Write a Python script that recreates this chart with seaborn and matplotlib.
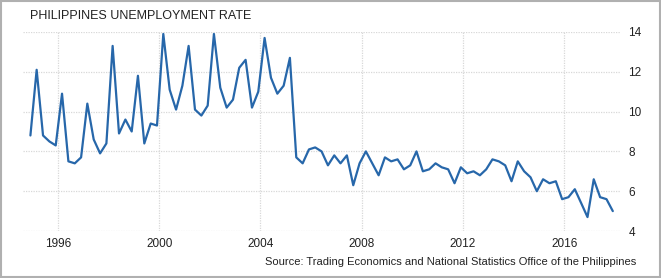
import pandas as pd
import numpy as np
import seaborn as sns
import matplotlib.pyplot as plt
import matplotlib.dates as mdates
from matplotlib.patches import Rectangle

# quarterly unemployment rate (%)
rate = [8.8, 12.1, 8.8, 8.5, 8.3, 10.9, 7.5, 7.4, 7.7, 10.4, 8.6, 7.9, 8.4, 13.3, 8.9,
        9.6, 9.0, 11.8, 8.4, 9.4, 9.3, 13.9, 11.1, 10.1, 11.3, 13.3, 10.1, 9.8, 10.3, 13.9,
        11.2, 10.2, 10.6, 12.2, 12.6, 10.2, 11.0, 13.7, 11.7, 10.9, 11.3, 12.7, 7.7, 7.4, 8.1,
        8.2, 8.0, 7.3, 7.8, 7.4, 7.8, 6.3, 7.4, 8.0, 7.4, 6.8, 7.7, 7.5, 7.6, 7.1, 7.3, 8.0,
        7.0, 7.1, 7.4, 7.2, 7.1, 6.4, 7.2, 6.9, 7.0, 6.8, 7.1, 7.6, 7.5, 7.3, 6.5, 7.5,
        7.0, 6.7, 6.0, 6.6, 6.4, 6.5, 5.6, 5.7, 6.1, 5.4, 4.7, 6.6, 5.7, 5.6, 5.0]
dates = pd.date_range("1994-12-01", periods=len(rate), freq="3MS")
y_ticks = [4, 6, 8, 10, 12, 14]

title = "PHILIPPINES UNEMPLOYMENT RATE"
source = "Source: Trading Economics and National Statistics Office of the Philippines"

sns.set_style("white")
plt.rcParams["font.family"] = ["Liberation Sans", "DejaVu Sans"]

df = pd.DataFrame({"date": dates, "rate": rate})

fig = plt.figure(figsize=(6.61, 2.78), dpi=100)
ax = fig.add_axes([0.035, 0.169, 0.903, 0.716])

sns.lineplot(data=df, x="date", y="rate", color="#2767aa", linewidth=1.6, ax=ax)

ax.set_ylim(4, 14)
ax.set_yticks(y_ticks)
ax.set_xlim(pd.Timestamp("1994-08-18"), pd.Timestamp("2018-03-15"))
ax.xaxis.set_major_locator(mdates.YearLocator(4))
ax.xaxis.set_major_formatter(mdates.DateFormatter("%Y"))
ax.yaxis.tick_right()
ax.tick_params(length=0, labelsize=8.5, colors="#222222", pad=6)
ax.tick_params(axis="x", pad=5)
ax.set_xlabel("")
ax.set_ylabel("")
ax.grid(True, color="#d8d8d8", linestyle=(0, (1, 1)), linewidth=0.9)
for s in ax.spines.values():
    s.set_visible(False)

fig.text(0.046, 0.944, title, fontsize=9, color="#222222", va="center")
fig.text(0.963, 0.058, source, fontsize=8, color="#222222", ha="right", va="center")
fig.patches.append(Rectangle((0.0015, 0.003), 0.997, 0.994, transform=fig.transFigure,
                             fill=False, edgecolor="#b0b0b0", linewidth=1.5))

fig.savefig("out.png", dpi=100)
